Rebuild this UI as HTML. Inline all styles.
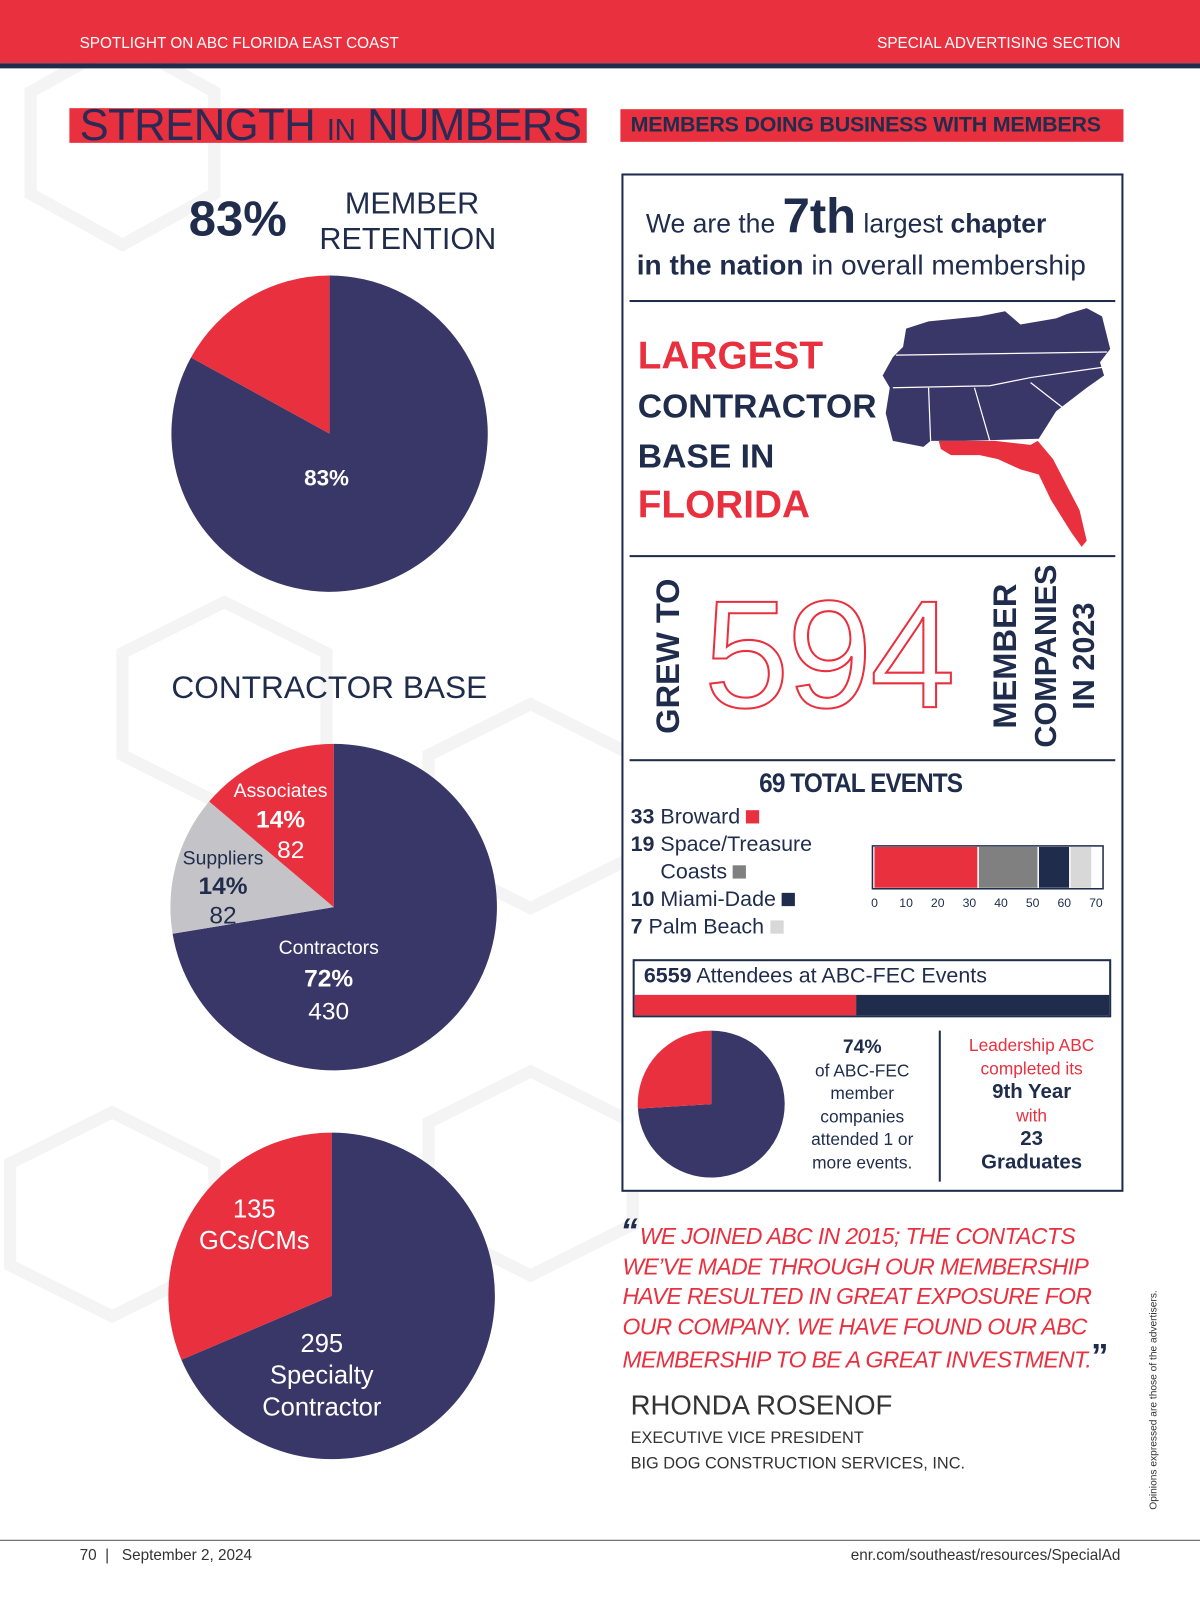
<!DOCTYPE html>
<html><head><meta charset="utf-8"><style>
html,body{margin:0;padding:0;width:1200px;height:1600px;overflow:hidden;background:#fff}
#page{position:absolute;left:0;top:0;width:1176px;height:1568px;transform:scale(1.0204);transform-origin:0 0;font-family:"Liberation Sans",sans-serif;color:#1c2b4a}
.a{position:absolute;white-space:nowrap}
.navy{color:#1f2c4c}.red{color:#e8303f}
.b{font-weight:bold}
.rot{position:absolute;transform:translate(-50%,-50%) rotate(-90deg);white-space:nowrap;font-weight:bold;color:#1f2c4c}
</style></head><body>
<div id="page">
<svg class="a" style="left:0;top:0" width="1176" height="1568">
<g fill="none" stroke="#f4f4f4" stroke-width="12">
<polygon points="30,90 120,40 210,90 210,190 120,240 30,190"/>
<polygon points="120,640 220,590 320,640 320,740 220,790 120,740"/>
<polygon points="420,740 520,690 620,740 620,840 520,890 420,840"/>
<polygon points="10,1140 110,1090 210,1140 210,1240 110,1290 10,1240"/>
<polygon points="420,1100 520,1050 620,1100 620,1200 520,1250 420,1200"/>
</g></svg>
<div class="a" style="left:0;top:0;width:1176px;height:62px;background:#e8303f"></div>
<div class="a" style="left:0;top:62px;width:1176px;height:5px;background:#1f2c4c"></div>
<div class="a" style="left:78px;top:34px;color:#fff;font-size:15px">SPOTLIGHT ON ABC FLORIDA EAST COAST</div>
<div class="a" style="right:78px;top:34px;color:#fff;font-size:15px">SPECIAL ADVERTISING SECTION</div>

<div class="a" style="left:68px;top:106px;width:507px;height:34px;background:#e8303f"></div>
<div class="a" style="left:78px;top:98px;font-size:44px;color:#2a2a55;letter-spacing:-0.5px;transform:scaleX(0.97);transform-origin:0 0">STRENGTH <span style="font-size:30px">IN</span> NUMBERS</div>

<div class="a b" style="left:608px;top:107px;width:493px;height:32px;background:#e8303f"></div>
<div class="a b" style="left:618px;top:111px;font-size:21px;color:#1f2c4c;letter-spacing:-0.2px">MEMBERS DOING BUSINESS WITH MEMBERS</div>

<div class="a b navy" style="left:185px;top:188px;font-size:48px">83%</div>
<div class="a navy" style="left:313px;top:182px;font-size:30px;line-height:35px;text-align:center">&nbsp;MEMBER<br>RETENTION</div>

<div class="a navy" style="left:168px;top:656px;font-size:31px">CONTRACTOR BASE</div>

<svg id="pies" class="a" style="left:0;top:0" width="600" height="1568"></svg>

<div class="a b" style="left:298px;top:456px;font-size:22px;color:#fff">83%</div>
<div class="a" style="left:229px;top:762px;font-size:19px;color:#fff;text-align:center;line-height:28px">Associates<br><b style="font-size:24px">14%</b><br><span style="font-size:24px;position:relative;left:10px">82</span></div>
<div class="a navy" style="left:179px;top:828px;font-size:19px;text-align:center;line-height:27px">Suppliers<br><b style="font-size:24px">14%</b><br><span style="font-size:24px">82</span></div>
<div class="a" style="left:273px;top:915px;font-size:19px;color:#fff;text-align:center;line-height:30px">Contractors<br><b style="font-size:24px">72%</b><br><span style="font-size:24px">430</span></div>
<div class="a" style="left:195px;top:1170px;font-size:25px;color:#fff;text-align:center;line-height:31px">135<br>GCs/CMs</div>
<div class="a" style="left:257px;top:1302px;font-size:25px;color:#fff;text-align:center;line-height:31px">295<br>Specialty<br>Contractor</div>

<div class="a" style="left:609px;top:170px;width:488px;height:994px;border:2px solid #1f2c4c;background:#fff"></div>
<div class="a navy" style="left:633px;top:185px;font-size:26px">We are the <b style="font-size:48px">7th</b> largest <b>chapter</b></div>
<div class="a navy" style="left:624px;top:244px;font-size:27.5px"><b>in the nation</b> in overall membership</div>
<div class="a" style="left:617px;top:294px;width:476px;height:1.5px;background:#1f2c4c"></div>
<div class="a b" style="left:625px;top:325px;font-size:38px;line-height:48px"><span class="red">LARGEST</span><br><span class="navy" style="font-size:33px">CONTRACTOR<br>BASE IN</span><br><span class="red">FLORIDA</span></div>
<svg class="a" style="left:860px;top:300px" width="240" height="240">
<polygon fill="#393768" points="28,22 50,15 100,10 125,5 140,18 175,12 185,8 205,2 220,10 228,42 218,55 222,68 205,80 175,103 158,130 85,132 52,132 45,138 15,132 8,105 12,80 5,68 15,50 25,40"/>
<polygon fill="#e8303f" points="60,132 115,132 150,136 157,132 172,150 185,175 198,200 205,230 200,236 190,222 180,206 170,190 158,165 140,160 118,150 100,146 72,146 62,140"/>
<g stroke="#fff" stroke-width="1.2" fill="none"><path d="M18,48 L225,45"/><path d="M15,80 L110,78 L150,70 L220,60"/><path d="M50,80 L52,132"/><path d="M95,80 L110,132"/><path d="M150,75 L195,110"/></g>
</svg>
<div class="a" style="left:617px;top:544px;width:476px;height:1.5px;background:#1f2c4c"></div>
<div class="rot" style="left:655px;top:643px;font-size:32px">GREW TO</div>
<div class="a" style="left:690px;top:566px;font-size:150px;line-height:150px;color:transparent;-webkit-text-stroke:2px #e8303f;letter-spacing:-2px">594</div>
<div class="rot" style="left:985px;top:643px;font-size:32px">MEMBER</div>
<div class="rot" style="left:1026px;top:643px;font-size:30px">COMPANIES</div>
<div class="rot" style="left:1063px;top:643px;font-size:30px">IN 2023</div>
<div class="a" style="left:617px;top:744px;width:476px;height:1.5px;background:#1f2c4c"></div>

<div class="a b navy" style="left:744px;top:752px;font-size:26px;letter-spacing:-1px;transform:scaleX(0.92);transform-origin:0 0">69 TOTAL EVENTS</div>
<div class="a navy" style="left:618px;top:787px;font-size:21px;line-height:27px">
<div><b>33</b> Broward <span style="display:inline-block;width:13px;height:13px;background:#e8303f"></span></div>
<div><b>19</b> Space/Treasure<br>&nbsp;&nbsp;&nbsp;&nbsp;&nbsp;Coasts <span style="display:inline-block;width:13px;height:13px;background:#808080"></span></div>
<div><b>10</b> Miami-Dade <span style="display:inline-block;width:13px;height:13px;background:#1f2c4c"></span></div>
<div><b>7</b> Palm Beach <span style="display:inline-block;width:13px;height:13px;background:#d8d8d8"></span></div>
</div>
<svg id="ebar" class="a" style="left:840px;top:820px" width="260" height="80"></svg>

<div class="a" style="left:620px;top:940px;width:465px;height:53px;border:2px solid #1f2c4c;background:#fff"></div>
<div class="a navy" style="left:631px;top:945px;font-size:21px"><b>6559</b> Attendees at ABC-FEC Events</div>
<div class="a" style="left:622px;top:975px;width:217px;height:20px;background:#e8303f"></div>
<div class="a" style="left:839px;top:975px;width:248px;height:20px;background:#1f2c4c"></div>

<div class="a b" style="left:703px;top:1075px;font-size:19px;color:#fff">74%</div>
<div class="a navy" style="left:770px;top:1016px;width:150px;font-size:17px;line-height:22.5px;text-align:center"><b style="font-size:19px">74%</b><br>of ABC-FEC<br>member<br>companies<br>attended 1 or<br>more events.</div>
<div class="a" style="left:920px;top:1010px;width:2px;height:148px;background:#1f2c4c"></div>
<div class="a" style="left:926px;top:1013px;width:170px;font-size:17px;line-height:23px;text-align:center"><span class="red">Leadership ABC<br>completed its</span><br><b class="navy" style="font-size:20px">9th Year</b><br><span class="red">with</span><br><b class="navy" style="font-size:20px">23<br>Graduates</b></div>

<div class="a" style="left:610px;top:1197px;font-size:22.5px;line-height:29.5px;font-style:italic;color:#e8303f;letter-spacing:-0.6px"><span style="font-size:34px;color:#1f2c4c;font-weight:bold;position:absolute;left:-2px;top:-5px">“</span>&nbsp;&nbsp;&nbsp;WE JOINED ABC IN 2015; THE CONTACTS<br>WE’VE MADE THROUGH OUR MEMBERSHIP<br>HAVE RESULTED IN GREAT EXPOSURE FOR<br>OUR COMPANY. WE HAVE FOUND OUR ABC<br>MEMBERSHIP TO BE A GREAT INVESTMENT.<span style="font-size:34px;color:#1f2c4c;font-weight:bold;font-style:normal">”</span></div>
<div class="a" style="left:618px;top:1362px;font-size:27px;color:#333">RHONDA ROSENOF</div>
<div class="a" style="left:618px;top:1397px;font-size:16px;color:#333;line-height:25px">EXECUTIVE VICE PRESIDENT<br>BIG DOG CONSTRUCTION SERVICES, INC.</div>
<div class="rot" style="left:1131px;top:1372px;font-size:10px;font-weight:normal;color:#333">Opinions expressed are those of the advertisers.</div>

<div class="a" style="left:0;top:1509px;width:1176px;height:1px;background:#555"></div>
<div class="a" style="left:78px;top:1516px;font-size:15px;color:#333">70 &nbsp;| &nbsp; September 2, 2024</div>
<div class="a" style="right:78px;top:1516px;font-size:15px;color:#333">enr.com/southeast/resources/SpecialAd</div>
</div>
<script>
const NS='http://www.w3.org/2000/svg';
const pie1Values=[83,17];
const pie2Values=[430,82,82];
const pie3Values=[295,135];
const pie4Values=[74,26];
const eventCategories=['Broward','Space/Treasure Coasts','Miami-Dade','Palm Beach'];
const eventValues=[33,19,10,7];
const eventTicks=[0,10,20,30,40,50,60,70];
function drawPie(svg,cx,cy,r,vals,cols,name){
  const tot=vals.reduce((a,b)=>a+b,0);let a0=-Math.PI/2;
  vals.forEach((v,i)=>{
    const a1=a0+v/tot*2*Math.PI;
    const p=document.createElementNS(NS,'path');
    const large=(a1-a0)>Math.PI?1:0;
    p.setAttribute('d',`M${cx},${cy} L${cx+r*Math.cos(a0)},${cy+r*Math.sin(a0)} A${r},${r} 0 ${large} 1 ${cx+r*Math.cos(a1)},${cy+r*Math.sin(a1)} Z`);
    p.setAttribute('fill',cols[i]);
    
    
    svg.appendChild(p);a0=a1;});
}
const pies=document.getElementById('pies');
drawPie(pies,323,425,155,pie1Values,['#393768','#e8303f'],'retention-pie');
drawPie(pies,327,889,160,pie2Values,['#393768','#c4c4c8','#e8303f'],'contractor-pie');
drawPie(pies,325,1270,160,pie3Values,['#393768','#e8303f'],'specialty-pie');
const p4=document.createElementNS(NS,'svg');
p4.setAttribute('style','position:absolute;left:600px;top:1000px');
p4.setAttribute('width','200');p4.setAttribute('height','200');


document.getElementById('page').appendChild(p4);
drawPie(p4,97,82,72,pie4Values,['#393768','#e8303f'],'attendance-pie');
const eb=document.getElementById('ebar');
const x0=17,x1=234,vmax=70;const xs=v=>x0+(x1-x0)*v/vmax;
const frame=document.createElementNS(NS,'rect');
frame.setAttribute('x',15);frame.setAttribute('y',9);frame.setAttribute('width',226);frame.setAttribute('height',42);
frame.setAttribute('fill','#fff');frame.setAttribute('stroke','#1f2c4c');frame.setAttribute('stroke-width','1.5');


eb.appendChild(frame);
const ecols=['#e8303f','#808080','#1f2c4c','#d8d8d8'];let acc=0;
eventValues.forEach((v,i)=>{
  const r=document.createElementNS(NS,'rect');
  r.setAttribute('x',xs(acc));r.setAttribute('y',10);r.setAttribute('width',xs(acc+v)-xs(acc)-1.5);r.setAttribute('height',40);
  r.setAttribute('fill',ecols[i]);
  
  
  eb.appendChild(r);acc+=v;});
eventTicks.forEach(t=>{
  const tx=document.createElementNS(NS,'text');
  tx.setAttribute('x',xs(t));tx.setAttribute('y',69);tx.setAttribute('text-anchor','middle');
  tx.setAttribute('font-size','12');tx.setAttribute('fill','#1f2c4c');tx.setAttribute('font-family','Liberation Sans');
  tx.textContent=t;
  
  
  eb.appendChild(tx);});
</script>
</body></html>
